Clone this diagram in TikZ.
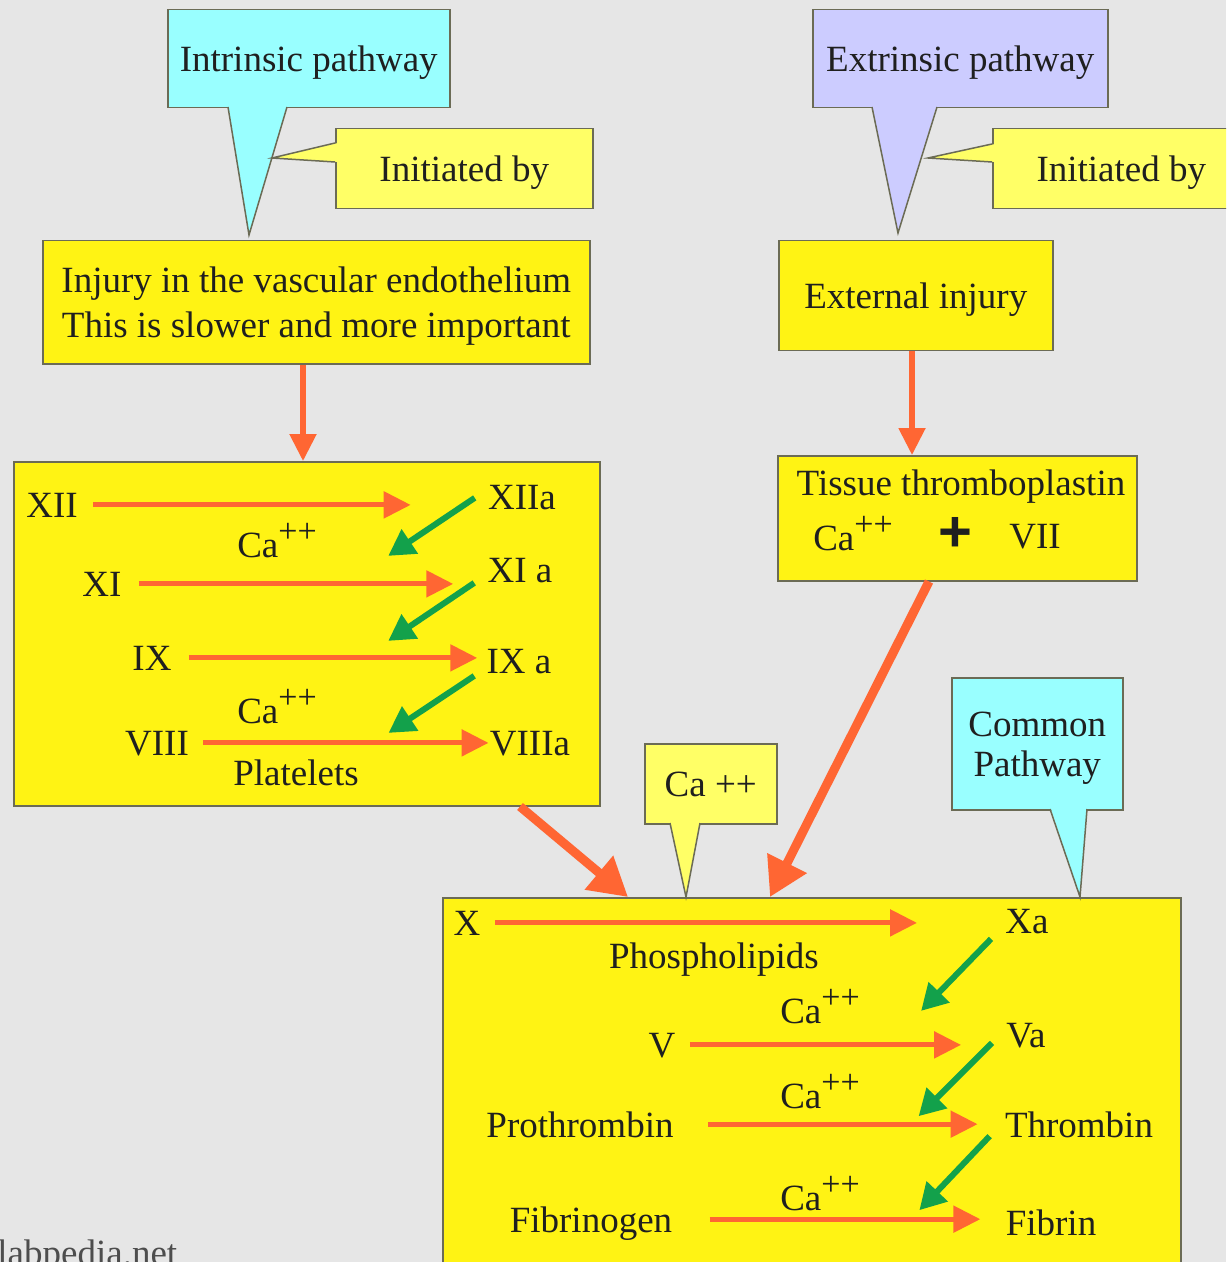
\documentclass[tikz,border=0pt]{standalone}
\usepackage{fontspec}
\setmainfont{Liberation Serif}
\newfontfamily\plusfont{Liberation Sans}
\usepackage{tikz}
\usetikzlibrary{arrows.meta}
\definecolor{bggray}{HTML}{E6E6E6}
\definecolor{boxyellow}{HTML}{FFF314}
\definecolor{paleyellow}{HTML}{FFFF66}
\definecolor{palecyan}{HTML}{99FFFF}
\definecolor{palelilac}{HTML}{CCCCFF}
\definecolor{arroworange}{HTML}{FF6633}
\definecolor{arrowgreen}{HTML}{13A14B}
\definecolor{boxline}{HTML}{6B6B55}
\definecolor{inkdark}{HTML}{1F1F1F}
\definecolor{markgray}{HTML}{4D4D4D}
\newcommand{\caion}{Ca\raisebox{7.5pt}{\fontsize{17}{17}\selectfont ++}}
\tikzset{
    every node/.style = {
        font=\fontsize{18.5}{22.5}\selectfont,
        text=inkdark
    },
    block/.style = {
        draw=boxline,
        fill=boxyellow,
        shape=rectangle,
        anchor=north west,
        inner sep=0pt,
        text depth=0pt,
        align=center,
        line width=0.75pt
    },
    balloon/.style = {
        block,
        fill=#1
    },
    tailedge/.style = {
        draw=boxline,
        line width=0.75pt
    },
    factor/.style = {
        anchor=base,
        inner sep=0pt,
        text depth=0pt
    },
    flow/.style = {
        arroworange,
        line width=2.6pt,
        -{Triangle[length=13.5pt,width=13pt]}
    },
    bigflow/.style = {
        arroworange,
        line width=4.5pt,
        -{Triangle[length=19pt,width=21pt]}
    },
    activate/.style = {
        arrowgreen,
        line width=3pt,
        -{Triangle[length=13pt,width=14pt]}
    }
}
\begin{document}
\begin{tikzpicture}[x=0.5pt,y=-0.5pt]
            \useasboundingbox (0,0) rectangle (1226,1262);
            \clip (0,0) rectangle (1226,1262);
            \fill[bggray] (0,0) rectangle (1226,1262);

            \node[block, minimum width=273.5pt, minimum height=61.5pt] (injury) at (42,240) {Injury in the vascular endothelium\\This is slower and more important};
            \node[block, minimum width=137pt, minimum height=55pt] (extinj) at (778,240) {External injury};
            \node[block, minimum width=293pt, minimum height=172pt] (intbox) at (13,461) {};
            \node[block, minimum width=179.5pt, minimum height=62.5pt] (tissue) at (777,455) {};
            \node[block, minimum width=369pt, minimum height=200pt] (combox) at (442,897) {};

            \node[balloon=palecyan, minimum width=141pt, minimum height=49pt] (intrcall) at (167,9) {Intrinsic pathway};
            \fill[palecyan] (228,104) -- (249,235) -- (288,104) -- cycle;
            \draw[tailedge] (228,107) -- (249,235) -- (287,107);
            \node[balloon=paleyellow, minimum width=128.5pt, minimum height=40pt] (inita) at (335,128) {Initiated by};
            \fill[paleyellow] (338,143) -- (272,158) -- (338,162) -- cycle;
            \draw[tailedge] (335,143) -- (272,158) -- (335,162);

            \node[balloon=palelilac, minimum width=147.5pt, minimum height=49pt] (extrcall) at (812,9) {Extrinsic pathway};
            \fill[palelilac] (872,104) -- (898,233) -- (937,104) -- cycle;
            \draw[tailedge] (872,107) -- (898,233) -- (937,107);
            \node[balloon=paleyellow, minimum width=128.5pt, minimum height=40pt] (initb) at (992,128) {Initiated by};
            \fill[paleyellow] (995,144) -- (928,158) -- (995,162) -- cycle;
            \draw[tailedge] (992,144) -- (928,158) -- (992,162);

            \node[balloon=paleyellow, minimum width=66pt, minimum height=40pt] (cacall) at (644,743) {Ca ++};
            \fill[paleyellow] (670,820) -- (686,897) -- (700,820) -- cycle;
            \draw[tailedge] (670,823) -- (686,897) -- (700,823);
            \node[balloon=palecyan, minimum width=85.5pt, minimum height=66pt, font=\fontsize{18.5}{20}\selectfont] (commcall) at (951,677) {Common\\Pathway};
            \fill[palecyan] (1050,806) -- (1080,897) -- (1087,806) -- cycle;
            \draw[tailedge] (1050,809) -- (1080,897) -- (1087,809);

            \node[factor] (xii) at (52,517) {XII};
            \node[factor] (xiia) at (522,509) {XIIa};
            \node[factor] (caa) at (277,557) {\caion};
            \node[factor] (xi) at (102,596) {XI};
            \node[factor] (xia) at (520,582) {XI a};
            \node[factor] (ix) at (152,670) {IX};
            \node[factor] (ixa) at (519,673) {IX a};
            \node[factor] (cab) at (277,723) {\caion};
            \node[factor] (viii) at (157,755) {VIII};
            \node[factor] (viiia) at (530,755) {VIIIa};
            \node[factor] (platelets) at (296,785) {Platelets};

            \node[factor] (tissuename) at (961,495) {Tissue thromboplastin};
            \node[factor] (catissue) at (853,550) {\caion};
            \node[font=\plusfont\bfseries\fontsize{29}{29}\selectfont, inner sep=0pt] (plus) at (955,534) {+};
            \node[factor] (vii) at (1035,548) {VII};

            \node[factor] (x) at (467,935) {X};
            \node[factor] (xa) at (1027,933) {Xa};
            \node[factor] (phospho) at (714,968) {Phospholipids};
            \node[factor] (cac) at (820,1023) {\caion};
            \node[factor] (v) at (662,1057) {V};
            \node[factor] (va) at (1026,1047) {Va};
            \node[factor] (cad) at (820,1108) {\caion};
            \node[factor] (prothrombin) at (580,1137) {Prothrombin};
            \node[factor] (thrombin) at (1079,1137) {Thrombin};
            \node[factor] (cae) at (820,1210) {\caion};
            \node[factor] (fibrinogen) at (591,1232) {Fibrinogen};
            \node[factor] (fibrin) at (1051,1235) {Fibrin};

            \path[draw, flow] (injury.south -| 303,0) -- (intbox.north -| 303,0);
            \path[draw, flow] (extinj.south -| 912,0) -- (tissue.north -| 912,0);
            \path[draw, bigflow] (intbox.south -| 520,0) -- (combox.north -| 628,0);
            \path[draw, bigflow] (tissue.south -| 929,0) -- (combox.north -| 770,0);

            \path[draw, flow, shorten <=7.5pt, shorten >=38.5pt] (xii.east) -- (xii.east -| xiia.west);
            \path[draw, flow, shorten <=8.5pt, shorten >=17pt] (xi.east) -- (xi.east -| xia.west);
            \path[draw, flow, shorten <=8.5pt, shorten >=4.5pt] (ix.east) -- (ix.east -| ixa.west);
            \path[draw, flow, shorten <=7pt, shorten >=0.5pt] (viii.east) -- (viii.east -| viiia.west);
            \path[draw, activate] ([shift={(-13,1)}]xiia.west) -- ([shift={(-99,-14)}]xia.west);
            \path[draw, activate] ([shift={(-13,13)}]xia.west) -- ([shift={(-98,-20)}]ixa.west);
            \path[draw, activate] ([shift={(-12,15)}]ixa.west) -- ([shift={(-101,-10)}]viiia.west);

            \path[draw, flow, shorten <=7pt, shorten >=44pt] (x.east) -- (x.east -| xa.west);
            \path[draw, flow, shorten <=7pt, shorten >=22.5pt] (v.east) -- (v.east -| va.west);
            \path[draw, flow, shorten <=17pt, shorten >=13.5pt] (prothrombin.east) -- (prothrombin.east -| thrombin.west);
            \path[draw, flow, shorten <=18.5pt, shorten >=12.5pt] (fibrinogen.east) -- (fibrinogen.east -| fibrin.west);
            \path[draw, activate] ([shift={(-14,18)}]xa.west) -- ([shift={(-85,-24)}]va.west);
            \path[draw, activate] ([shift={(-14,8)}]va.west) -- ([shift={(-86,-8)}]thrombin.west);
            \path[draw, activate] ([shift={(-15,12)}]thrombin.west) -- ([shift={(-86,-12)}]fibrin.west);

            \node[anchor=base west, inner sep=0pt, text=markgray] (mark) at (-3,1265) {labpedia.net};
        \end{tikzpicture}
\end{document}
